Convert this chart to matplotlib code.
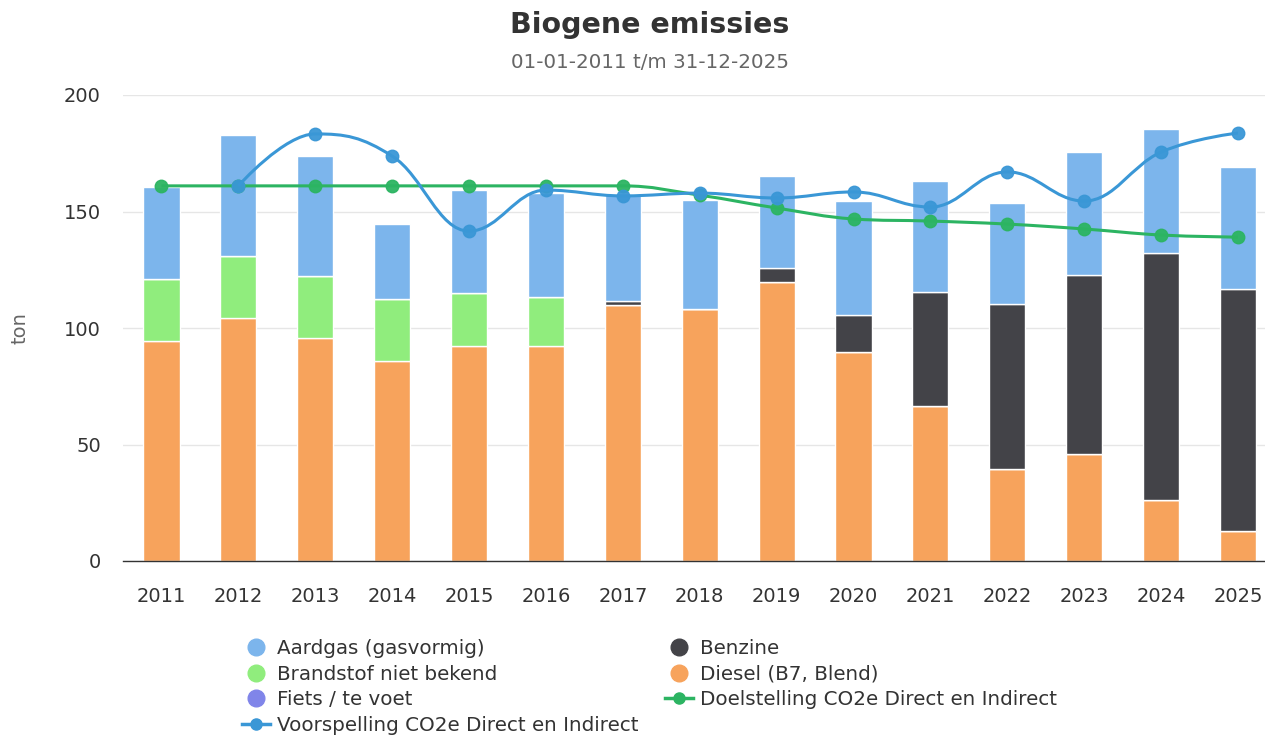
import numpy as np
import matplotlib
matplotlib.use("Agg")
import matplotlib.pyplot as plt
from matplotlib.path import Path
from matplotlib.patches import PathPatch
from matplotlib.lines import Line2D

plt.rcParams["font.family"] = ["DejaVu Sans"]

# Data (ton)
years = ["2011", "2012", "2013", "2014", "2015", "2016", "2017", "2018",
         "2019", "2020", "2021", "2022", "2023", "2024", "2025"]
diesel = [94.4, 104.3, 95.7, 85.8, 92.3, 92.3, 109.9, 108.2, 119.7, 89.7, 66.5, 39.5, 45.9, 26.2, 12.9]
brandstof = [26.6, 26.6, 26.6, 26.6, 22.7, 21.0, 0, 0, 0, 0, 0, 0, 0, 0, 0]
benzine = [0, 0, 0, 0, 0, 0, 1.8, 0, 6.1, 15.9, 49.0, 70.8, 76.8, 106.0, 103.8]
aardgas = [39.5, 51.9, 51.5, 32.2, 44.2, 44.6, 45.8, 46.8, 39.4, 48.9, 47.6, 43.3, 52.8, 53.2, 52.4]
fiets = [0] * 15
doelstelling = [161, 161, 161, 161, 161, 161, 161, 157, 151.5, 146.8, 145.9, 144.6, 142.5, 139.9, 139]
voorspelling_years = years[1:]
voorspelling = [161, 183.3, 173.8, 141.6, 159.2, 156.7, 157.9, 155.8, 158.4, 151.9, 167, 154.5, 175.5, 183.7]

C_AARDGAS = "#7cb5ec"
C_BENZINE = "#434348"
C_BRANDSTOF = "#90ed7d"
C_DIESEL = "#f7a35c"
C_FIETS = "#8085e9"
C_DOEL = "#2cb462"
C_VOOR = "#3a97d6"


def spline_path(xs, ys, smoothing=1.5):
    """Highcharts-style spline as cubic bezier path through the points."""
    denom = smoothing + 1
    n = len(xs)
    right = [None] * n
    verts = [(xs[0], ys[0])]
    codes = [Path.MOVETO]
    for i in range(1, n):
        x, y = xs[i], ys[i]
        lx, ly = xs[i - 1], ys[i - 1]
        lcx, lcy = x, y
        if i < n - 1:
            nx, ny = xs[i + 1], ys[i + 1]
            lcx = (smoothing * x + lx) / denom
            lcy = (smoothing * y + ly) / denom
            rcx = (smoothing * x + nx) / denom
            rcy = (smoothing * y + ny) / denom
            corr = (rcy - lcy) * (rcx - x) / (rcx - lcx) + y - rcy
            lcy += corr
            rcy += corr
            if lcy > ly and lcy > y:
                lcy = max(ly, y); rcy = 2 * y - lcy
            elif lcy < ly and lcy < y:
                lcy = min(ly, y); rcy = 2 * y - lcy
            if rcy > ny and rcy > y:
                rcy = max(ny, y); lcy = 2 * y - rcy
            elif rcy < ny and rcy < y:
                rcy = min(ny, y); lcy = 2 * y - rcy
            right[i] = (rcx, rcy)
        prev = right[i - 1] if right[i - 1] is not None else (lx, ly)
        verts += [prev, (lcx, lcy), (x, y)]
        codes += [Path.CURVE4] * 3
    return Path(verts, codes)


fig = plt.figure(figsize=(12.65, 7.37), dpi=100)
ax = fig.add_axes([123 / 1265, 1 - 561 / 737, (1265 - 123) / 1265, (561 - 95) / 737])

x = np.arange(len(years))
width = 0.47
bottom = np.zeros(len(years))
for vals, col in [(fiets, C_FIETS), (diesel, C_DIESEL), (brandstof, C_BRANDSTOF),
                  (benzine, C_BENZINE), (aardgas, C_AARDGAS)]:
    v = np.array(vals, dtype=float)
    ax.bar(x, v, width, bottom=bottom, color=col, edgecolor="white", linewidth=1, zorder=2)
    bottom += v

# Lines
xd = x.astype(float)
ax.add_patch(PathPatch(spline_path(xd, doelstelling), facecolor="none", edgecolor=C_DOEL,
                       lw=2.2, zorder=3))
ax.plot(xd, doelstelling, "o", color=C_DOEL, ms=9, zorder=4, alpha=0.95)
xv = np.arange(1, len(years)).astype(float)
ax.add_patch(PathPatch(spline_path(xv, voorspelling), facecolor="none", edgecolor=C_VOOR,
                       lw=2.2, zorder=5))
ax.plot(xv, voorspelling, "o", color=C_VOOR, ms=9, zorder=6, alpha=0.95)

ax.set_xlim(-0.5, (1265 - 122.5) / 76.93 - 0.5)
ax.set_ylim(0, 200)
ax.set_yticks([0, 50, 100, 150, 200])
ax.set_xticks(x)
ax.set_xticklabels(years)
ax.tick_params(axis="both", length=0, labelsize=14, colors="#333333")
ax.tick_params(axis="x", pad=18.5)
ax.tick_params(axis="y", pad=16)
ax.grid(axis="y", color="#e6e6e6", lw=1, zorder=0)
ax.set_axisbelow(True)
for s in ["top", "right", "left"]:
    ax.spines[s].set_visible(False)
ax.spines["bottom"].set_color("#333333")
ax.spines["bottom"].set_linewidth(1)
ax.set_ylabel("ton", fontsize=14, color="#666666")
ax.yaxis.set_label_coords(-0.082, 0.5)

fig.text(650 / 1265, 1 - 25 / 737, "Biogene emissies", ha="center", va="center",
         fontsize=20.5, fontweight="bold", color="#333333")
fig.text(650 / 1265, 1 - 63 / 737, "01-01-2011 t/m 31-12-2025", ha="center", va="center",
         fontsize=14.3, color="#666666")

# Legend
def dot(c):
    return Line2D([], [], ls="none", marker="o", ms=12, color=c)

def linemark(c):
    return Line2D([], [], color=c, lw=2.5, marker="o", ms=8)

handles = [dot(C_AARDGAS), dot(C_BRANDSTOF), dot(C_FIETS), linemark(C_VOOR),
           dot(C_BENZINE), dot(C_DIESEL), linemark(C_DOEL)]
labels = ["Aardgas (gasvormig)", "Brandstof niet bekend", "Fiets / te voet",
          "Voorspelling CO2e Direct en Indirect", "Benzine", "Diesel (B7, Blend)",
          "Doelstelling CO2e Direct en Indirect"]
fig.legend(handles, labels, ncol=2, loc="upper left", bbox_to_anchor=(232 / 1265, 1 - 629 / 737),
           frameon=False, fontsize=14.3, labelcolor="#333333", handlelength=1.4,
           handletextpad=0.35, columnspacing=1.35, labelspacing=0.34, borderpad=0)

fig.savefig("out.png", dpi=100)
